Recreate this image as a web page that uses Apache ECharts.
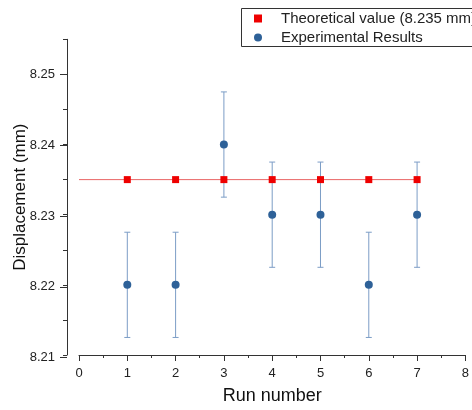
<!DOCTYPE html>
<html>
<head>
<meta charset="utf-8">
<script src="https://cdn.jsdelivr.net/npm/echarts@6/dist/echarts.min.js"></script>
<style>
  html, body { margin: 0; padding: 0; background: #fff; }
  #chart { width: 472px; height: 410px; }
</style>
</head>
<body>
<div id="chart"></div>
<script>
// data
var runs = [1, 2, 3, 4, 5, 6, 7];
var measured = [8.22, 8.22, 8.24, 8.23, 8.23, 8.22, 8.23];
var errors = [0.0075, 0.0075, 0.0075, 0.0075, 0.0075, 0.0075, 0.0075];
var theoretical = 8.235;
var lineRuns = [0, 7];
var yTicks = [8.21, 8.22, 8.23, 8.24, 8.25];

var FONT = 'Liberation Sans, Arial, sans-serif';
var AXIS = '#333';

var chart = echarts.init(document.getElementById('chart'), null, { renderer: 'canvas' });

var theoData = runs.map(function (r) { return [r, theoretical]; });
var measData = runs.map(function (r, i) { return [r, measured[i]]; });
var errData = runs.map(function (r, i) { return [r, measured[i] - errors[i], measured[i] + errors[i]]; });
var lineData = lineRuns.map(function (r) { return [r, theoretical]; });

var option = {
  animation: false,
  textStyle: { fontFamily: FONT },
  grid: [
    { left: 79, width: 394, top: 39.3, height: 318.2 },
    // only for major ticks and labels of the y axis
    { left: 79, width: 394, top: 74.7, height: 282.8 }
  ],
  // legend frame runs off the right edge like in the original
  graphic: [{
    type: 'rect',
    shape: { x: 241.5, y: 8.5, width: 260, height: 38 },
    style: { fill: 'none', stroke: '#333', lineWidth: 1 },
    z: 10
  }],
  legend: {
    orient: 'vertical',
    left: 241,
    top: 8,
    padding: [3, 40, 4, 13],
    itemWidth: 14,
    itemHeight: 8,
    itemGap: 4,
    textStyle: { fontFamily: FONT, fontSize: 15, color: '#222', lineHeight: 14, padding: [0, 0, 0, 11] },
    data: [
      { name: 'Theoretical value (8.235 mm)', icon: 'path://M0 0H10V10H0Z' },
      { name: 'Experimental Results', icon: 'circle' }
    ]
  },
  xAxis: [
    {
      gridIndex: 0,
      type: 'value',
      min: 0,
      max: 8,
      interval: 1,
      name: 'Run number',
      nameLocation: 'middle',
      nameGap: 32,
      nameTextStyle: { fontFamily: FONT, fontSize: 18, color: '#111' },
      axisLine: { onZero: false, lineStyle: { color: AXIS, width: 1 } },
      axisTick: { length: 6, lineStyle: { color: AXIS } },
      minorTick: { show: true, splitNumber: 2, length: 3, lineStyle: { color: AXIS } },
      axisLabel: { margin: 12, fontSize: 13, color: '#222', fontFamily: FONT },
      splitLine: { show: false }
    },
    { gridIndex: 1, type: 'value', min: 0, max: 8, show: false }
  ],
  yAxis: [
    {
      gridIndex: 0,
      type: 'value',
      min: 8.21,
      max: 8.255,
      interval: 0.005,
      offset: 12,
      name: 'Displacement (mm)',
      nameLocation: 'middle',
      nameGap: 38,
      nameTextStyle: { fontFamily: FONT, fontSize: 17, color: '#111' },
      axisLine: { show: true, onZero: false, lineStyle: { color: AXIS, width: 1 } },
      axisTick: { show: true, length: 4, lineStyle: { color: AXIS } },
      axisLabel: { show: false },
      splitLine: { show: false }
    },
    {
      gridIndex: 1,
      type: 'value',
      min: yTicks[0],
      max: yTicks[yTicks.length - 1],
      interval: 0.01,
      offset: 12,
      axisLine: { show: false, onZero: false },
      axisTick: { show: true, length: 7, lineStyle: { color: AXIS } },
      axisLabel: {
        margin: 12, fontSize: 13, color: '#222', fontFamily: FONT,
        formatter: function (v) { return v.toFixed(2); }
      },
      splitLine: { show: false }
    }
  ],
  series: [
    {
      name: 'theory line',
      type: 'line',
      data: lineData,
      showSymbol: false,
      symbol: 'none',
      lineStyle: { color: '#e96464', width: 1 },
      z: 1
    },
    {
      name: 'error bars',
      type: 'custom',
      data: errData,
      z: 2,
      renderItem: function (params, api) {
        var x = api.value(0);
        var lo = api.coord([x, api.value(1)]);
        var hi = api.coord([x, api.value(2)]);
        var cap = 3;
        var st = { stroke: '#7c9dc6', lineWidth: 1 };
        return {
          type: 'group',
          children: [
            { type: 'line', shape: { x1: lo[0], y1: lo[1], x2: hi[0], y2: hi[1] }, style: st },
            { type: 'line', shape: { x1: lo[0] - cap, y1: lo[1], x2: lo[0] + cap, y2: lo[1] }, style: st },
            { type: 'line', shape: { x1: hi[0] - cap, y1: hi[1], x2: hi[0] + cap, y2: hi[1] }, style: st }
          ]
        };
      }
    },
    {
      name: 'Theoretical value (8.235 mm)',
      type: 'scatter',
      data: theoData,
      symbol: 'rect',
      symbolSize: 7,
      itemStyle: { color: '#ee0000', opacity: 1 },
      z: 3
    },
    {
      name: 'Experimental Results',
      type: 'scatter',
      data: measData,
      symbol: 'circle',
      symbolSize: 8,
      itemStyle: { color: '#2e6198', opacity: 1 },
      z: 4
    }
  ]
};

chart.setOption(option);
</script>
</body>
</html>
